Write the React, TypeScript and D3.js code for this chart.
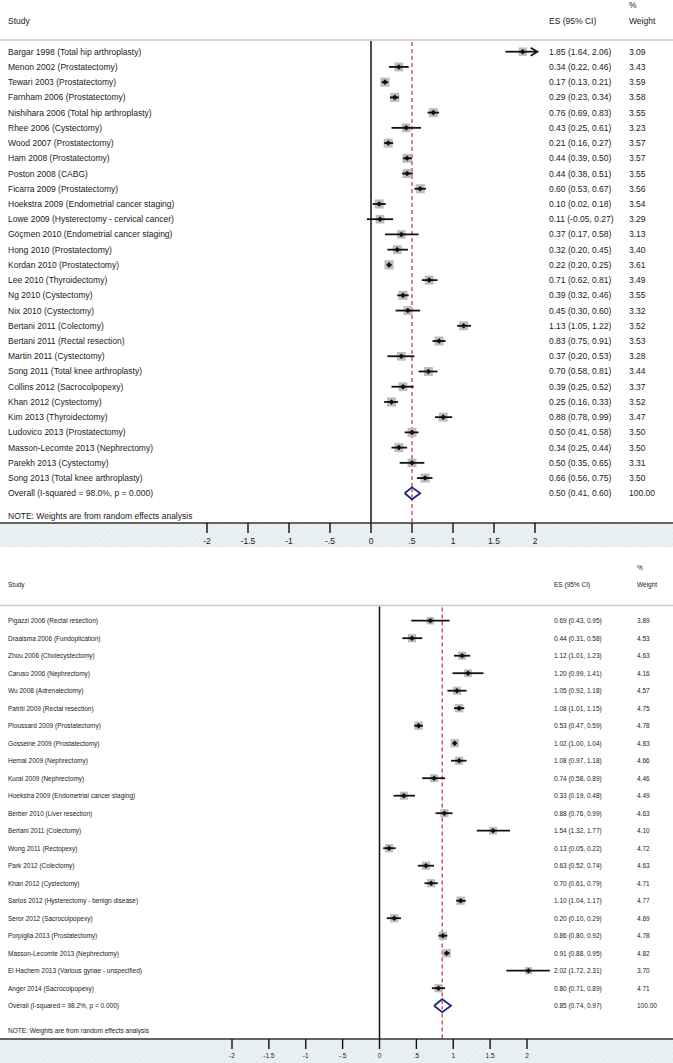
import React from "react";
import * as d3 from "d3";

// ---------- Top panel data ----------
const topStudies = [
  "Bargar 1998 (Total hip arthroplasty)",
  "Menon 2002 (Prostatectomy)",
  "Tewari 2003 (Prostatectomy)",
  "Farnham 2006 (Prostatectomy)",
  "Nishihara 2006 (Total hip arthroplasty)",
  "Rhee 2006 (Cystectomy)",
  "Wood 2007 (Prostatectomy)",
  "Ham 2008 (Prostatectomy)",
  "Poston 2008 (CABG)",
  "Ficarra 2009 (Prostatectomy)",
  "Hoekstra 2009 (Endometrial cancer staging)",
  "Lowe 2009 (Hysterectomy - cervical cancer)",
  "Göçmen 2010 (Endometrial cancer staging)",
  "Hong 2010 (Prostatectomy)",
  "Kordan 2010 (Prostatectomy)",
  "Lee 2010 (Thyroidectomy)",
  "Ng 2010 (Cystectomy)",
  "Nix 2010 (Cystectomy)",
  "Bertani 2011 (Colectomy)",
  "Bertani 2011 (Rectal resection)",
  "Martin 2011 (Cystectomy)",
  "Song 2011 (Total knee arthroplasty)",
  "Collins 2012 (Sacrocolpopexy)",
  "Khan 2012 (Cystectomy)",
  "Kim 2013 (Thyroidectomy)",
  "Ludovico 2013 (Prostatectomy)",
  "Masson-Lecomte 2013 (Nephrectomy)",
  "Parekh 2013 (Cystectomy)",
  "Song 2013 (Total knee arthroplasty)",
];
const topES = [1.85, 0.34, 0.17, 0.29, 0.76, 0.43, 0.21, 0.44, 0.44, 0.60, 0.10, 0.11, 0.37, 0.32, 0.22, 0.71, 0.39, 0.45, 1.13, 0.83, 0.37, 0.70, 0.39, 0.25, 0.88, 0.50, 0.34, 0.50, 0.66];
const topLo = [1.64, 0.22, 0.13, 0.23, 0.69, 0.25, 0.16, 0.39, 0.38, 0.53, 0.02, -0.05, 0.17, 0.20, 0.20, 0.62, 0.32, 0.30, 1.05, 0.75, 0.20, 0.58, 0.25, 0.16, 0.78, 0.41, 0.25, 0.35, 0.56];
const topHi = [2.06, 0.46, 0.21, 0.34, 0.83, 0.61, 0.27, 0.50, 0.51, 0.67, 0.18, 0.27, 0.58, 0.45, 0.25, 0.81, 0.46, 0.60, 1.22, 0.91, 0.53, 0.81, 0.52, 0.33, 0.99, 0.58, 0.44, 0.65, 0.75];
const topWeight = [3.09, 3.43, 3.59, 3.58, 3.55, 3.23, 3.57, 3.57, 3.55, 3.56, 3.54, 3.29, 3.13, 3.40, 3.61, 3.49, 3.55, 3.32, 3.52, 3.53, 3.28, 3.44, 3.37, 3.52, 3.47, 3.50, 3.50, 3.31, 3.50];
const topOverall = { label: "Overall  (I-squared = 98.0%, p = 0.000)", es: 0.50, lo: 0.41, hi: 0.60, w: "100.00" };

// ---------- Bottom panel data ----------
const botStudies = [
  "Pigazzi 2006 (Rectal resection)",
  "Draaisma 2006 (Fundoplication)",
  "Zhou 2006 (Cholecystectomy)",
  "Caruso 2006 (Nephrectomy)",
  "Wu 2008 (Adrenalectomy)",
  "Patriti 2009 (Rectal resection)",
  "Ploussard 2009 (Prostatectomy)",
  "Gosseine 2009 (Prostatectomy)",
  "Hemal 2009 (Nephrectomy)",
  "Kural 2009 (Nephrectomy)",
  "Hoekstra 2009 (Endometrial cancer staging)",
  "Berber 2010 (Liver resection)",
  "Bertani 2011 (Colectomy)",
  "Wong 2011 (Rectopexy)",
  "Park 2012 (Colectomy)",
  "Khan 2012 (Cystectomy)",
  "Sarlos 2012 (Hysterectomy - benign disease)",
  "Seror 2012 (Sacrocolpopexy)",
  "Porpiglia 2013 (Prostatectomy)",
  "Masson-Lecomte 2013 (Nephrectomy)",
  "El Hachem 2013 (Various gynae - unspecified)",
  "Anger 2014 (Sacrocolpopexy)",
];
const botES = [0.69, 0.44, 1.12, 1.20, 1.05, 1.08, 0.53, 1.02, 1.08, 0.74, 0.33, 0.88, 1.54, 0.13, 0.63, 0.70, 1.10, 0.20, 0.86, 0.91, 2.02, 0.80];
const botLo = [0.43, 0.31, 1.01, 0.99, 0.92, 1.01, 0.47, 1.00, 0.97, 0.58, 0.19, 0.76, 1.32, 0.05, 0.52, 0.61, 1.04, 0.10, 0.80, 0.88, 1.72, 0.71];
const botHi = [0.95, 0.58, 1.23, 1.41, 1.18, 1.15, 0.59, 1.04, 1.18, 0.89, 0.48, 0.99, 1.77, 0.22, 0.74, 0.79, 1.17, 0.29, 0.92, 0.95, 2.31, 0.89];
const botWeight = [3.89, 4.53, 4.63, 4.16, 4.57, 4.75, 4.78, 4.83, 4.66, 4.46, 4.49, 4.63, 4.10, 4.72, 4.63, 4.71, 4.77, 4.69, 4.78, 4.82, 3.70, 4.71];
const botOverall = { label: "Overall  (I-squared = 98.2%, p = 0.000)", es: 0.85, lo: 0.74, hi: 0.97, w: "100.00" };

const tickValues = [-2, -1.5, -1, -0.5, 0, 0.5, 1, 1.5, 2];
const tickLabels = ["-2", "-1.5", "-1", "-.5", "0", ".5", "1", "1.5", "2"];

const noteText = "NOTE: Weights are from random effects analysis";

const FONT = "'Liberation Sans', Arial, Helvetica, sans-serif";
const TEXT = "#1a1a1a";
const NAVY = "#1c2a78";
const RED = "#c0303a";

const f2raw = d3.format(".2f");
const f2 = (v: number) => f2raw(v).replace("\u2212", "-");
const esText = (e: number, l: number, h: number) => `${f2(e)} (${f2(l)}, ${f2(h)})`;

type PanelCfg = {
  studies: string[];
  es: number[];
  lo: number[];
  hi: number[];
  w: number[];
  overall: { label: string; es: number; lo: number; hi: number; w: string };
  xRange: [number, number];
  xClipMax: number;
  firstRowY: number;
  overallY: number;
  pctY: number;
  headerY: number;
  headerLineY: number;
  noteY: number;
  axisY: number;
  bandBottom: number;
  fontSize: number;
  esX: number;
  wX: number;
  boxK: number;
  diamondHalf: number;
  tickLen: number;
  tickLabelDy: number;
};

function Panel({ cfg, id }: { cfg: PanelCfg; id: string }) {
  const x = d3.scaleLinear().domain([-2, 2]).range(cfg.xRange);
  const n = cfg.studies.length;
  const y = d3.scaleLinear().domain([0, n]).range([cfg.firstRowY, cfg.overallY]);
  const fs = cfg.fontSize;
  const ov = cfg.overall;
  const diamond = d3.line<[number, number]>()([
    [x(ov.lo), cfg.overallY],
    [x(ov.es), cfg.overallY - cfg.diamondHalf],
    [x(ov.hi), cfg.overallY],
    [x(ov.es), cfg.overallY + cfg.diamondHalf],
    [x(ov.lo), cfg.overallY],
  ]);
  const textProps = { fontFamily: FONT, fontSize: fs, fill: TEXT, dominantBaseline: "central" as const };
  return (
    <g>
      <rect x={0} y={cfg.axisY} width={673} height={cfg.bandBottom - cfg.axisY} fill={`url(#hatch${id})`} />
      <text {...textProps} x={8} y={cfg.headerY}>Study</text>
      <text {...textProps} x={cfg.esX} y={cfg.headerY}>ES (95% CI)</text>
      <text {...textProps} x={cfg.wX} y={cfg.pctY}>%</text>
      <text {...textProps} x={cfg.wX} y={cfg.headerY}>Weight</text>
      <line x1={0} x2={673} y1={cfg.headerLineY} y2={cfg.headerLineY} stroke="#c8c8c8" strokeWidth={1.6} />
      <line x1={x(0)} x2={x(0)} y1={cfg.headerLineY + 1} y2={cfg.axisY} stroke="#111" strokeWidth={1.5} />
      <line x1={x(ov.es)} x2={x(ov.es)} y1={cfg.headerLineY + 2} y2={cfg.axisY} stroke={RED} strokeWidth={1.2} strokeDasharray="4,3" />
      {cfg.studies.map((s, i) => {
        const yy = y(i);
        const side = cfg.boxK * Math.sqrt(cfg.w[i]);
        const clipped = cfg.hi[i] > cfg.xClipMax;
        const hiX = clipped ? x(cfg.xClipMax) : x(cfg.hi[i]);
        return (
          <g key={i}>
            <rect x={x(cfg.es[i]) - side / 2} y={yy - side / 2} width={side} height={side} fill="#bdbdbd" />
            <line x1={x(cfg.lo[i])} x2={hiX} y1={yy} y2={yy} stroke="#111" strokeWidth={1.8} />
            {clipped && (
              <path d={`M${hiX - 6},${yy - 4} L${hiX + 1},${yy} L${hiX - 6},${yy + 4}`} fill="none" stroke="#111" strokeWidth={1.6} />
            )}
            <path d={`M${x(cfg.es[i])},${yy - 2.8} L${x(cfg.es[i]) + 2.8},${yy} L${x(cfg.es[i])},${yy + 2.8} L${x(cfg.es[i]) - 2.8},${yy} Z`} fill="#111" />
            <text {...textProps} x={8} y={yy}>{s}</text>
            <text {...textProps} x={cfg.esX} y={yy}>{esText(cfg.es[i], cfg.lo[i], cfg.hi[i])}</text>
            <text {...textProps} x={cfg.wX} y={yy}>{f2(cfg.w[i])}</text>
          </g>
        );
      })}
      <path d={diamond || ""} fill="white" stroke={NAVY} strokeWidth={1.8} />
      <line x1={x(ov.es)} x2={x(ov.es)} y1={cfg.overallY - cfg.diamondHalf + 2} y2={cfg.overallY + cfg.diamondHalf - 2} stroke={RED} strokeWidth={1.2} strokeDasharray="3,2" />
      <text {...textProps} x={8} y={cfg.overallY}>{ov.label}</text>
      <text {...textProps} x={cfg.esX} y={cfg.overallY}>{esText(ov.es, ov.lo, ov.hi)}</text>
      <text {...textProps} x={cfg.wX} y={cfg.overallY}>{ov.w}</text>
      <text {...textProps} x={8} y={cfg.noteY}>{noteText}</text>
      <line x1={0} x2={673} y1={cfg.axisY} y2={cfg.axisY} stroke="#333" strokeWidth={1.3} />
      {tickValues.map((t, i) => (
        <g key={t}>
          <line x1={x(t)} x2={x(t)} y1={cfg.axisY} y2={cfg.axisY + cfg.tickLen} stroke="#111" strokeWidth={1.4} />
          <text {...textProps} x={x(t)} y={cfg.axisY + cfg.tickLabelDy} textAnchor="middle">{tickLabels[i]}</text>
        </g>
      ))}
    </g>
  );
}

const topCfg: PanelCfg = {
  studies: topStudies, es: topES, lo: topLo, hi: topHi, w: topWeight, overall: topOverall,
  xRange: [207, 535], xClipMax: 2.02,
  firstRowY: 51.7, overallY: 493.3, pctY: 5, headerY: 21, headerLineY: 40, noteY: 515.7,
  axisY: 523, bandBottom: 547, fontSize: 8.5, esX: 549, wX: 629, boxK: 4.8, diamondHalf: 6,
  tickLen: 10, tickLabelDy: 18,
};

const botCfg: PanelCfg = {
  studies: botStudies, es: botES, lo: botLo, hi: botHi, w: botWeight, overall: botOverall,
  xRange: [232, 527], xClipMax: 9,
  firstRowY: 620.7, overallY: 1005.7, pctY: 567, headerY: 584, headerLineY: 605.5, noteY: 1030,
  axisY: 1039, bandBottom: 1063, fontSize: 6.5, esX: 554, wX: 637, boxK: 3.8, diamondHalf: 6.5,
  tickLen: 10, tickLabelDy: 16,
};

export default function App() {
  return (
    <svg width={673} height={1063} style={{ position: "absolute", left: 0, top: 0, display: "block", background: "white" }}>
      <defs>
        {["T", "B"].map((id) => (
          <pattern key={id} id={`hatch${id}`} width={4} height={4} patternUnits="userSpaceOnUse" patternTransform="rotate(45)">
            <rect width={4} height={4} fill="#eaf1f3" />
            <line x1={0} y1={0} x2={0} y2={4} stroke="#dfe8eb" strokeWidth={1.5} />
          </pattern>
        ))}
      </defs>
      <rect width={673} height={1063} fill="white" />
      <Panel cfg={topCfg} id="T" />
      <Panel cfg={botCfg} id="B" />
    </svg>
  );
}
